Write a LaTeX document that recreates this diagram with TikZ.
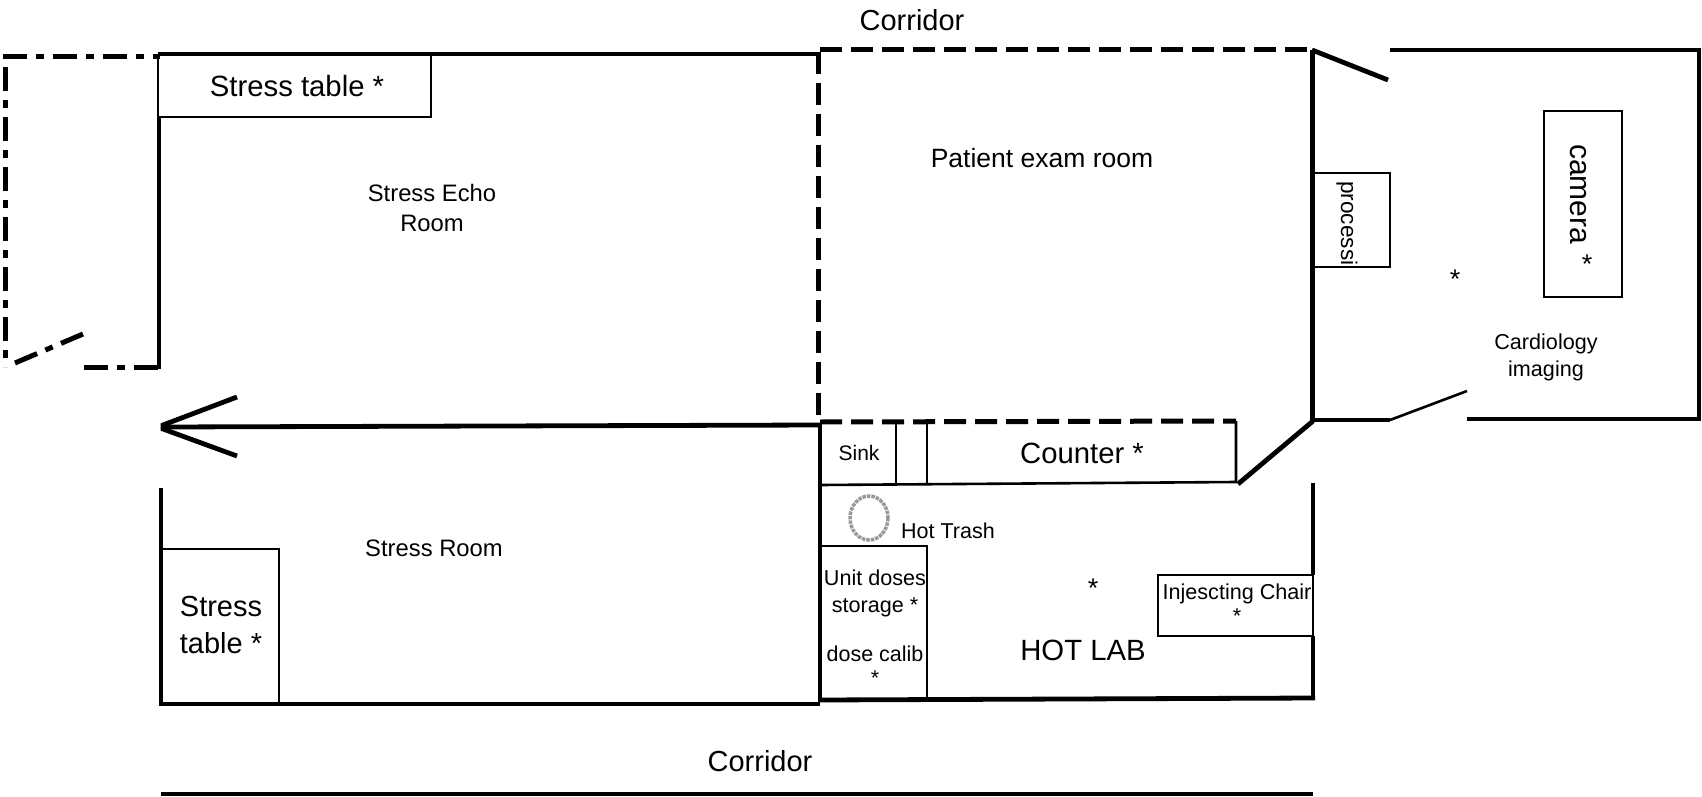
\documentclass[tikz,border=0pt]{standalone}
\usepackage{fontspec}
\setmainfont{Liberation Sans}
\tikzset{
  wall/.style={line width=4.8pt,line cap=butt,line join=miter},
  thinwall/.style={line width=2.6pt},
  dashwall/.style={line width=5pt,dash pattern=on 22pt off 9pt},
  dotwall/.style={line width=5pt,dash pattern=on 24pt off 9pt on 8pt off 9pt},
  lbl/.style={inner sep=0pt,align=center},
}
\begin{document}
\begin{tikzpicture}[x=1pt,y=-1pt]
\useasboundingbox (0,0) rectangle (1702,797);
% outer walls
\draw[dotwall] (3,57) -- (160,57);
\draw[dotwall] (5.5,67) -- (5.5,367);
\draw[dotwall] (15,363) -- (83,334);
\draw[dotwall] (84,367) -- (160,367);
\draw[wall] (159,118) -- (159,369);
\draw[wall] (158,54) -- (820,54);
\draw[dashwall] (820,50) -- (1312,50);
\draw[dashwall] (818.5,52) -- (818.5,424);
\draw[wall] (820,424) -- (820,702);
\draw[wall] (161,488) -- (161,706);
\draw[wall] (159,704) -- (820,704);
\draw[wall] (820,700) -- (1315,698);
\draw[wall] (1313,483) -- (1313,575);
\draw[thinwall] (1313,575) -- (1313,636);
\draw[wall] (1313,636) -- (1313,700);
\draw[wall] (161,794) -- (1313,794);
% corridor arrow
\draw[wall] (820,425) -- (164,427);
\draw[wall] (237,397) -- (163,425) -- (163,429) -- (237,456);
% imaging room
\draw[wall] (1312.5,50) -- (1312.5,420);
\draw[wall] (1312,50) -- (1388,80);
\draw[wall] (1390,50) -- (1699,50) -- (1699,419) -- (1467,419);
\draw[wall] (1310,420) -- (1390,420);
\draw[thinwall] (1390,420) -- (1467,391);
\draw[wall] (1238,484) -- (1313,421);
% hot lab
\draw[dashwall] (820,422) -- (1236,421);
\draw[thinwall] (1236,421) -- (1236,482) -- (820,485);
\draw[thinwall] (896,424) -- (896,485);
\draw[thinwall] (927,424) -- (927,485);
\draw[thinwall] (821,546) -- (927,546) -- (927,700);
\draw[thinwall] (1313,575) -- (1158,575) -- (1158,636) -- (1313,636);
\draw[line width=3.5pt,gray!80,densely dotted] (869,518) ellipse (19 and 22);
% tables
\draw[thinwall] (158,56) -- (158,117) -- (431,117) -- (431,56);
\draw[thinwall] (161,549) -- (279,549) -- (279,704);
\draw[thinwall] (1314,173) -- (1390,173) -- (1390,267) -- (1314,267);
\draw[thinwall] (1544,111) rectangle (1622,297);
% labels
\node[lbl,font=\fontsize{29}{29}\selectfont] (corrtop) at (912,20) {Corridor};
\node[lbl,font=\fontsize{29}{29}\selectfont] (corrbot) at (760,761) {Corridor};
\node[lbl,font=\fontsize{29.3}{29}\selectfont] (tabletop) at (297,86) {Stress table *};
\node[lbl,font=\fontsize{23.8}{30}\selectfont] (echo) at (432,208) {Stress Echo\\Room};
\node[lbl,font=\fontsize{26.5}{26}\selectfont] (exam) at (1042,158) {Patient exam room};
\node[lbl,font=\fontsize{23.8}{24}\selectfont] (stressroom) at (434,548) {Stress Room};
\node[lbl,font=\fontsize{29}{37}\selectfont] (tablelow) at (221,625) {Stress\\table *};
\node[lbl,font=\fontsize{21}{21}\selectfont] (sink) at (859,453) {Sink};
\node[lbl,font=\fontsize{29.3}{29}\selectfont] (counter) at (1082,453) {Counter *};
\node[lbl,font=\fontsize{21.5}{21}\selectfont] (trash) at (948,531) {Hot Trash};
\node[lbl,font=\fontsize{21.6}{27}\selectfont] (unit) at (875,593) {Unit doses\\storage *};
\node[lbl,font=\fontsize{21.5}{24}\selectfont] (calib) at (875,666) {dose calib\\*};
\node[lbl,font=\fontsize{27}{27}\selectfont] (labstar) at (1093,588) {*};
\node[lbl,font=\fontsize{29.3}{29}\selectfont] (hotlab) at (1083,650) {HOT LAB};
\node[lbl,font=\fontsize{21.6}{24}\selectfont] (chair) at (1237,604) {Injescting Chair\\*};
\node[lbl,font=\fontsize{22.6}{23}\selectfont,rotate=-90,anchor=west] (proc) at (1347,181) {processi};
\node[lbl,font=\fontsize{30}{30}\selectfont,rotate=-90,anchor=west] (camera) at (1578,144) {camera};
\node[lbl,font=\fontsize{27}{27}\selectfont] (camstar) at (1587,264) {*};
\node[lbl,font=\fontsize{27}{27}\selectfont] (roomstar) at (1455,279) {*};
\node[lbl,font=\fontsize{21.6}{27}\selectfont] (cardio) at (1546,357) {Cardiology\\imaging};
\end{tikzpicture}
\end{document}
